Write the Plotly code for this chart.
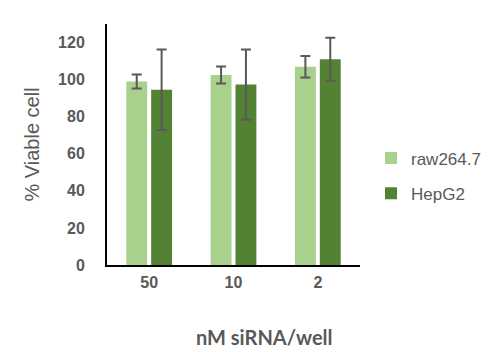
import plotly.graph_objects as go

categories = ["50", "10", "2"]
raw_values = [99, 102.5, 107]
raw_errors = [3.8, 4.6, 5.8]
hep_values = [94.5, 97.3, 111]
hep_errors = [21.7, 18.9, 11.6]
y_ticks = [0, 20, 40, 60, 80, 100, 120]

fig = go.Figure()
fig.add_trace(go.Bar(
    x=categories, y=raw_values, name="raw264.7", legendgroup="a",
    marker=dict(color="#A9D18E", line=dict(width=0)),
    error_y=dict(type="data", array=raw_errors, color="#595959", thickness=2, width=5),
))
fig.add_trace(go.Bar(
    x=categories, y=hep_values, name="HepG2", legendgroup="b",
    marker=dict(color="#548235", line=dict(width=0)),
    error_y=dict(type="data", array=hep_errors, color="#595959", thickness=2, width=5),
))

fig.update_layout(
    width=500, height=352,
    margin=dict(l=107, r=140, t=24, b=87),
    plot_bgcolor="white", paper_bgcolor="white",
    barmode="group", bargap=0.41, bargroupgap=0.16,
    font=dict(family="Liberation Sans, Arial, sans-serif", color="#595959"),
    legend=dict(xref="container", yref="container", x=0.742, y=0.50,
                xanchor="left", yanchor="middle",
                font=dict(size=17, color="#595959"), tracegroupgap=10,
                itemwidth=30, bgcolor="rgba(0,0,0,0)"),
    xaxis=dict(
        automargin=False,
        showline=True, linecolor="black", linewidth=2,
        tickfont=dict(size=16, color="#595959", family="Liberation Sans, Arial, sans-serif", weight="bold"),
        ticks="", ticklabelstandoff=2,
    ),
    yaxis=dict(
        automargin=False,
        range=[0, 130], tickvals=y_ticks,
        showline=True, linecolor="black", linewidth=2,
        showgrid=False, zeroline=False,
        tickfont=dict(size=16, color="#595959", family="Liberation Sans, Arial, sans-serif", weight="bold"),
        ticks="", ticklabelstandoff=17,
        title=dict(text="% Viable cell", font=dict(size=20, color="#595959"), standoff=13),
    ),
    annotations=[dict(
        text="nM siRNA/well", xref="paper", yref="paper",
        x=0.6225, y=-0.299, xanchor="center", yanchor="middle",
        showarrow=False,
        font=dict(size=20, family="Lato, sans-serif", color="#595959", weight="bold"),
    )],
)

fig.write_html("out.html")
